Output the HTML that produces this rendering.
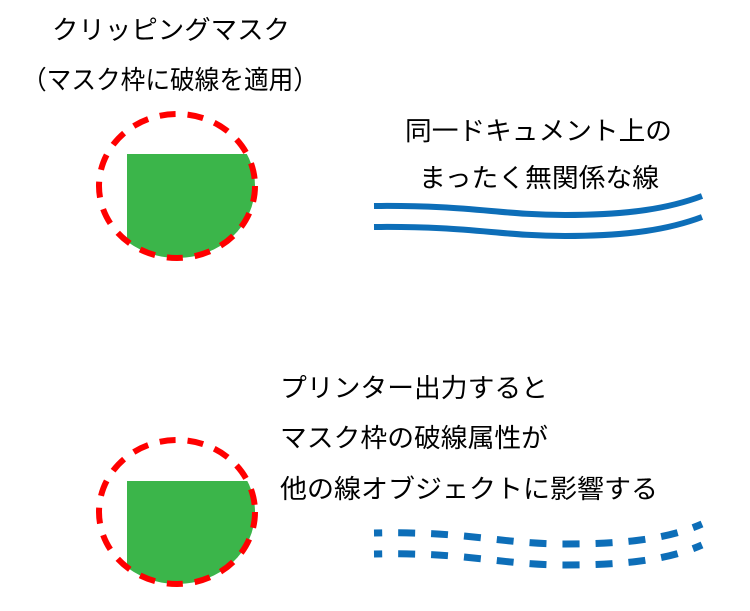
<!DOCTYPE html>
<html><head><meta charset="utf-8"><style>html,body{margin:0;padding:0;background:#fff;width:750px;height:611px;overflow:hidden}svg{display:block}</style></head>
<body>
<svg width="750" height="611" viewBox="0 0 750 611" xmlns="http://www.w3.org/2000/svg" font-family="'Liberation Sans','Noto Sans CJK JP',sans-serif" font-size="26" fill="#000">
<defs>
<clipPath id="c1"><ellipse cx="177" cy="186" rx="78" ry="72"/></clipPath>
<clipPath id="c2"><ellipse cx="177" cy="512" rx="78" ry="72"/></clipPath>
</defs>
<text x="52" y="39" textLength="238" lengthAdjust="spacingAndGlyphs">クリッピングマスク</text>
<text x="22" y="89" textLength="296" lengthAdjust="spacingAndGlyphs">（マスク枠に破線を適用）</text>
<text x="405" y="140" textLength="267" lengthAdjust="spacingAndGlyphs">同一ドキュメント上の</text>
<text x="419" y="187" textLength="240" lengthAdjust="spacingAndGlyphs">まったく無関係な線</text>
<text x="280" y="397" textLength="268" lengthAdjust="spacingAndGlyphs">プリンター出力すると</text>
<text x="280" y="447" textLength="268" lengthAdjust="spacingAndGlyphs">マスク枠の破線属性が</text>
<text x="280" y="498" textLength="378" lengthAdjust="spacingAndGlyphs">他の線オブジェクトに影響する</text>

<rect x="127" y="154" width="200" height="200" fill="#3bb54a" clip-path="url(#c1)"/>
<ellipse cx="177" cy="186" rx="78" ry="72" fill="none" stroke="#f00" stroke-width="6" stroke-dasharray="16 12"/>
<rect x="127" y="481" width="200" height="200" fill="#3bb54a" clip-path="url(#c2)"/>
<ellipse cx="177" cy="512" rx="78" ry="72" fill="none" stroke="#f00" stroke-width="6" stroke-dasharray="16 12"/>

<g fill="none" stroke="#0d6eb8" stroke-width="6">
<path d="M374,206 C470,205 500,215 565,215 C630,215 670,208 702,196"/>
<path d="M374,227 C470,226 500,236 565,236 C630,236 670,229 702,217"/>
</g>
<g fill="none" stroke="#0d6eb8" stroke-width="7" stroke-dasharray="17 16" stroke-dashoffset="9">
<path d="M374,533 C470,531 500,544 565,544 C630,544 670,538 702,524"/>
<path d="M374,554 C470,552 500,565 565,565 C630,565 670,559 702,545"/>
</g>
</svg>
</body></html>
